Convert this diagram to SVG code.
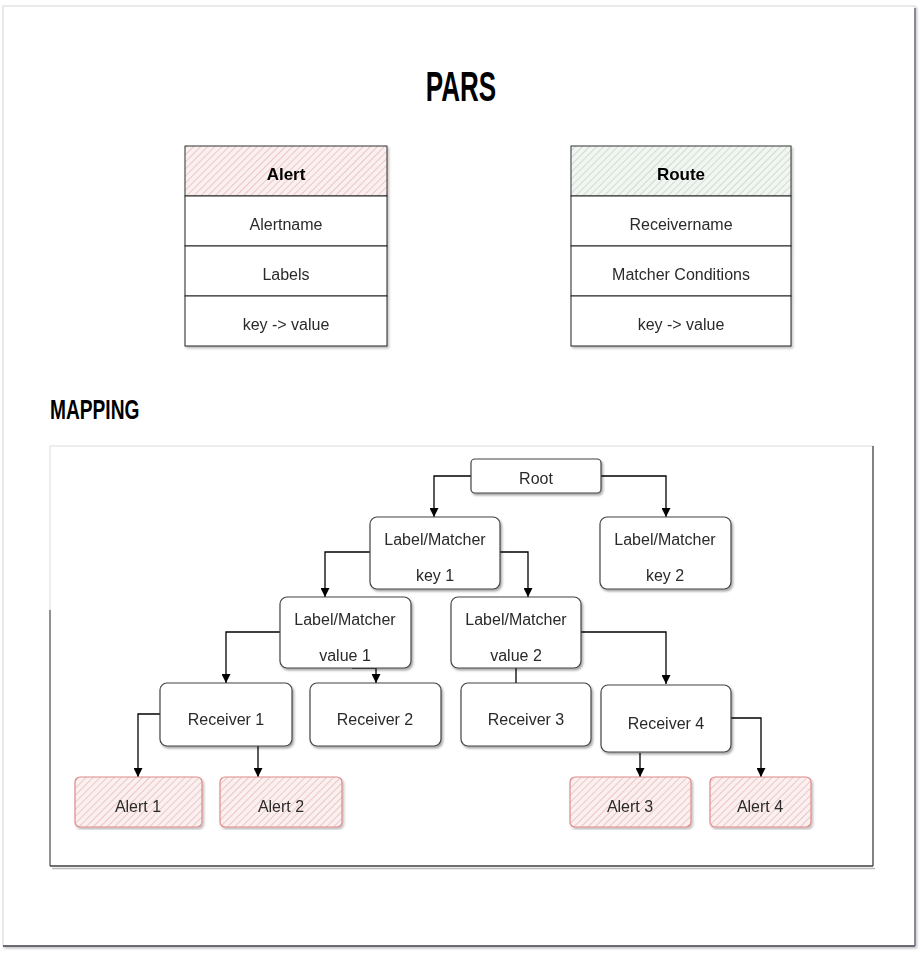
<svg xmlns="http://www.w3.org/2000/svg" width="924" height="960" viewBox="0 0 924 960">
<defs>
<pattern id="hatchPink" patternUnits="userSpaceOnUse" width="5" height="5" patternTransform="rotate(45)">
<rect width="5" height="5" fill="#fbf0f0"/>
<line x1="0" y1="0" x2="0" y2="5" stroke="#e6b0b0" stroke-width="1.3"/>
</pattern>
<pattern id="hatchGreen" patternUnits="userSpaceOnUse" width="5" height="5" patternTransform="rotate(45)">
<rect width="5" height="5" fill="#f2f6f2"/>
<line x1="0" y1="0" x2="0" y2="5" stroke="#bccdbe" stroke-width="1.3"/>
</pattern>
<filter id="sh" x="-10%" y="-10%" width="130%" height="140%">
<feDropShadow dx="1.5" dy="2" stdDeviation="1" flood-color="#000" flood-opacity="0.35"/>
</filter>
<filter id="shs" x="-5%" y="-5%" width="110%" height="110%">
<feDropShadow dx="1.5" dy="2" stdDeviation="1" flood-color="#000" flood-opacity="0.25"/>
</filter>
<marker id="arr" viewBox="0 0 10 10" refX="10" refY="5" markerWidth="9" markerHeight="9" markerUnits="userSpaceOnUse" orient="auto">
<path d="M0,0 L10,5 L0,10 Z" fill="#000"/>
</marker>
<style>
.hand{font-family:"Liberation Sans","DejaVu Sans",sans-serif;font-size:16px;fill:#2a2a2a;text-anchor:middle}
.hdr{font-family:"Liberation Sans",Arial,sans-serif;font-size:17px;font-weight:bold;fill:#000;text-anchor:middle}
.ttl{font-family:"Liberation Sans",Arial,sans-serif;font-weight:bold;fill:#000}
.node{fill:#fff;stroke:#444;stroke-width:1.2}
.alert{fill:url(#hatchPink);stroke:#de8a8a;stroke-width:1.2}
.cell{fill:#fff;stroke:#222;stroke-width:1}
.conn{fill:none;stroke:#000;stroke-width:1.3}
</style>
</defs>
<rect width="924" height="960" fill="#fff"/>
<g id="page">
<rect x="3" y="6" width="912" height="940" fill="#fff" stroke="#d6d6d6" stroke-width="1" filter="url(#shs)"/>
<line x1="915" y1="8" x2="915" y2="946" stroke="#8a8a96" stroke-width="2"/>
<line x1="3" y1="946" x2="915" y2="946" stroke="#6a6a76" stroke-width="2"/>
</g>
<g id="title-pars">
<text class="ttl" font-size="42" transform="translate(461,101) scale(0.62,1)" text-anchor="middle">PARS</text>
</g>
<g id="alert-table" filter="url(#shs)">
<rect x="185" y="146" width="202" height="50" fill="url(#hatchPink)" stroke="#333" stroke-width="1"/>
<rect class="cell" x="185" y="196" width="202" height="50"/>
<rect class="cell" x="185" y="246" width="202" height="50"/>
<rect class="cell" x="185" y="296" width="202" height="50"/>
<text class="hdr" x="286" y="180">Alert</text>
<text class="hand" x="286" y="230">Alertname</text>
<text class="hand" x="286" y="280">Labels</text>
<text class="hand" x="286" y="330">key -&gt; value</text>
</g>
<g id="route-table" filter="url(#shs)">
<rect x="571" y="146" width="220" height="50" fill="url(#hatchGreen)" stroke="#333" stroke-width="1"/>
<rect class="cell" x="571" y="196" width="220" height="50"/>
<rect class="cell" x="571" y="246" width="220" height="50"/>
<rect class="cell" x="571" y="296" width="220" height="50"/>
<text class="hdr" x="681" y="180">Route</text>
<text class="hand" x="681" y="230">Receivername</text>
<text class="hand" x="681" y="280">Matcher Conditions</text>
<text class="hand" x="681" y="330">key -&gt; value</text>
</g>
<g id="title-mapping">
<text class="ttl" font-size="27" transform="translate(50,419) scale(0.71,1)">MAPPING</text>
</g>
<g id="mapping-frame">
<rect x="50" y="446" width="823" height="420" fill="#fff" stroke="#e2e2e2" stroke-width="1.2"/>
<line x1="50" y1="610" x2="50" y2="866" stroke="#555" stroke-width="1.2"/>
<line x1="873" y1="446" x2="873" y2="866" stroke="#555" stroke-width="1.4"/>
<line x1="50" y1="866" x2="873" y2="866" stroke="#444" stroke-width="1.6"/>
<line x1="52" y1="868.5" x2="875" y2="868.5" stroke="#bbb" stroke-width="1.5"/>
</g>
<g id="connectors">
<path class="conn" d="M471,476 H434 V517" marker-end="url(#arr)"/>
<path class="conn" d="M601,476 H666 V517" marker-end="url(#arr)"/>
<path class="conn" d="M370,552 H325 V597" marker-end="url(#arr)"/>
<path class="conn" d="M500,552 H528 V597" marker-end="url(#arr)"/>
<path class="conn" d="M280,632 H226 V683" marker-end="url(#arr)"/>
<path class="conn" d="M352,668 H376 V683" marker-end="url(#arr)"/>
<path class="conn" d="M516,668 V683"/>
<path class="conn" d="M581,632 H666 V684" marker-end="url(#arr)"/>
<path class="conn" d="M160,714 H138 V777" marker-end="url(#arr)"/>
<path class="conn" d="M258,746 V777" marker-end="url(#arr)"/>
<path class="conn" d="M640,753 V777" marker-end="url(#arr)"/>
<path class="conn" d="M731,718 H761 V777" marker-end="url(#arr)"/>
</g>
<g id="root" filter="url(#sh)">
<rect class="node" x="471" y="459" width="130" height="34" rx="4"/>
<text class="hand" x="536" y="484">Root</text>
</g>
<g id="lm-key1" filter="url(#sh)">
<rect class="node" x="370" y="517" width="130" height="72" rx="7"/>
<text class="hand" x="435" y="545">Label/Matcher</text>
<text class="hand" x="435" y="581">key 1</text>
</g>
<g id="lm-key2" filter="url(#sh)">
<rect class="node" x="600" y="517" width="131" height="72" rx="7"/>
<text class="hand" x="665" y="545">Label/Matcher</text>
<text class="hand" x="665" y="581">key 2</text>
</g>
<g id="lm-value1" filter="url(#sh)">
<rect class="node" x="280" y="597" width="131" height="71" rx="7"/>
<text class="hand" x="345" y="625">Label/Matcher</text>
<text class="hand" x="345" y="661">value 1</text>
</g>
<g id="lm-value2" filter="url(#sh)">
<rect class="node" x="451" y="597" width="130" height="71" rx="7"/>
<text class="hand" x="516" y="625">Label/Matcher</text>
<text class="hand" x="516" y="661">value 2</text>
</g>
<g id="receiver1" filter="url(#sh)">
<rect class="node" x="160" y="683" width="132" height="63" rx="7"/>
<text class="hand" x="226" y="725">Receiver 1</text>
</g>
<g id="receiver2" filter="url(#sh)">
<rect class="node" x="310" y="683" width="131" height="63" rx="7"/>
<text class="hand" x="375" y="725">Receiver 2</text>
</g>
<g id="receiver3" filter="url(#sh)">
<rect class="node" x="461" y="683" width="130" height="63" rx="7"/>
<text class="hand" x="526" y="725">Receiver 3</text>
</g>
<g id="receiver4" filter="url(#sh)">
<rect class="node" x="601" y="685" width="130" height="67" rx="7"/>
<text class="hand" x="666" y="729">Receiver 4</text>
</g>
<g id="alert1" filter="url(#shs)">
<rect class="alert" x="75" y="777" width="127" height="50" rx="5"/>
<text class="hand" x="138" y="812">Alert 1</text>
</g>
<g id="alert2" filter="url(#shs)">
<rect class="alert" x="220" y="777" width="122" height="50" rx="5"/>
<text class="hand" x="281" y="812">Alert 2</text>
</g>
<g id="alert3" filter="url(#shs)">
<rect class="alert" x="570" y="777" width="121" height="50" rx="5"/>
<text class="hand" x="630" y="812">Alert 3</text>
</g>
<g id="alert4" filter="url(#shs)">
<rect class="alert" x="710" y="777" width="101" height="50" rx="5"/>
<text class="hand" x="760" y="812">Alert 4</text>
</g>
</svg>
